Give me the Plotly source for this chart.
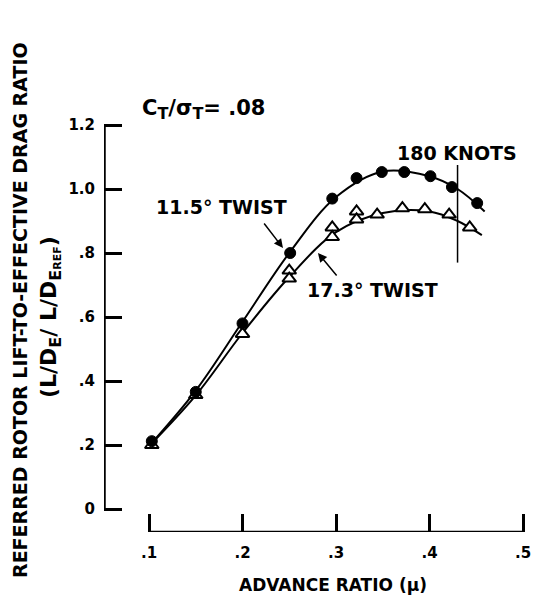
import plotly.graph_objects as go

# ---- data ----
twist115_mu = [0.103, 0.150, 0.200, 0.251, 0.296, 0.322, 0.349, 0.373, 0.401, 0.424, 0.451]
twist115_ld = [0.212, 0.366, 0.580, 0.800, 0.970, 1.034, 1.053, 1.053, 1.040, 1.006, 0.956]

twist173_mu = [0.103, 0.150, 0.200, 0.250, 0.250, 0.296, 0.296, 0.322, 0.322, 0.344, 0.371, 0.395, 0.421, 0.443]
twist173_ld = [0.200, 0.356, 0.547, 0.745, 0.720, 0.880, 0.850, 0.930, 0.905, 0.920, 0.940, 0.937, 0.920, 0.880]

# faired curves as drawn in the reference
curve115_mu = [0.098, 0.150, 0.200, 0.250, 0.300, 0.350, 0.400, 0.430, 0.459]
curve115_ld = [0.190, 0.370, 0.585, 0.800, 0.975, 1.055, 1.040, 1.000, 0.930]
curve173_mu = [0.098, 0.150, 0.200, 0.250, 0.300, 0.350, 0.400, 0.430, 0.456]
curve173_ld = [0.190, 0.355, 0.550, 0.725, 0.865, 0.925, 0.930, 0.900, 0.856]

knots180_mu = 0.43
knots180_range = [0.77, 1.075]

x_ticks = [0.1, 0.2, 0.3, 0.4, 0.5]
x_ticklabels = [".1", ".2", ".3", ".4", ".5"]
y_ticks = [0, 0.2, 0.4, 0.6, 0.8, 1.0, 1.2]
y_ticklabels = ["0", ".2", ".4", ".6", ".8", "1.0", "1.2"]

FONT = "DejaVu Sans"
W = 537
H = 595

fig = go.Figure()

fig.add_trace(go.Scatter(x=curve115_mu, y=curve115_ld, mode="lines",
                         line=dict(color="black", width=2, shape="spline"),
                         hoverinfo="skip", showlegend=False))
fig.add_trace(go.Scatter(x=curve173_mu, y=curve173_ld, mode="lines",
                         line=dict(color="black", width=2, shape="spline"),
                         hoverinfo="skip", showlegend=False))
fig.add_trace(go.Scatter(x=twist173_mu, y=twist173_ld, mode="markers",
                         marker=dict(symbol="triangle-up", size=12, color="white",
                                     line=dict(color="black", width=2)),
                         name="17.3° TWIST", showlegend=False))
fig.add_trace(go.Scatter(x=twist115_mu, y=twist115_ld, mode="markers",
                         marker=dict(symbol="circle", size=11, color="black",
                                     line=dict(color="black", width=1)),
                         name="11.5° TWIST", showlegend=False))

# 180 knots marker line
fig.add_trace(go.Scatter(x=[knots180_mu, knots180_mu], y=knots180_range, mode="lines",
                         line=dict(color="black", width=1.5),
                         hoverinfo="skip", showlegend=False))

# detached axis lines
fig.add_shape(type="line", xref="x", yref="y", x0=0.0524, x1=0.0524, y0=0, y1=1.2,
              line=dict(color="black", width=2.5))
fig.add_shape(type="line", xref="x", yref="y", x0=0.1, x1=0.5, y0=-0.0719, y1=-0.0719,
              line=dict(color="black", width=2.5))

tfont = dict(family=FONT, size=15, color="black", weight="bold")

fig.update_xaxes(range=[0.05187, 0.50749], tickvals=x_ticks, ticktext=x_ticklabels,
                 ticks="inside", ticklen=18, tickwidth=2.5, tickcolor="black",
                 showline=False, showgrid=False, zeroline=False,
                 tickfont=tfont, ticklabelstandoff=10)
fig.update_yaxes(range=[-0.071875, 1.278125], tickvals=y_ticks, ticktext=y_ticklabels,
                 ticks="inside", ticklen=18, tickwidth=2.5, tickcolor="black",
                 showline=False, showgrid=False, zeroline=False,
                 tickfont=tfont, ticklabelstandoff=8)

afont = dict(family=FONT, size=19, color="black", weight="bold")

annotations = [
    dict(x=0.177, y=0.944, xref="x", yref="y", text="11.5° TWIST", showarrow=False, font=afont),
    dict(x=0.3385, y=0.684, xref="x", yref="y", text="17.3° TWIST", showarrow=False, font=afont),
    dict(x=0.4294, y=1.1125, xref="x", yref="y", text="180 KNOTS", showarrow=False, font=afont),
    dict(x=0.1578, y=1.25, xref="x", yref="y",
         text="C<sub><span style='font-size:16px'>T</span></sub>/σ<sub><span style='font-size:16px'>T</span></sub>= .08",
         showarrow=False,
         font=dict(family=FONT, size=21, color="black", weight="bold")),
    # arrows
    dict(x=0.2433, y=0.8156, ax=0.2219, ay=0.897, xref="x", yref="y", axref="x", ayref="y",
         text="", showarrow=True, arrowhead=2, arrowsize=1.2, arrowwidth=1.5, arrowcolor="black"),
    dict(x=0.2807, y=0.80, ax=0.302, ay=0.725, xref="x", yref="y", axref="x", ayref="y",
         text="", showarrow=True, arrowhead=2, arrowsize=1.2, arrowwidth=1.5, arrowcolor="black"),
    # axis titles
    dict(x=0, y=(532 - 310) / 432, xref="paper", yref="paper", xanchor="center", yanchor="middle",
         xshift=-84,
         text="REFERRED ROTOR LIFT-TO-EFFECTIVE DRAG RATIO", textangle=-90,
         showarrow=False, font=dict(family=FONT, size=19, color="black", weight="bold")),
    dict(x=0, y=(532 - 317) / 432, xref="paper", yref="paper", xanchor="center", yanchor="middle",
         xshift=-54,
         text="(L/D<sub><span style='font-size:16px'>E</span></sub>/ L/D<sub><span style='font-size:16px'>E</span></sub><sub><span style='font-size:11px'>REF</span></sub>)",
         textangle=-90, showarrow=False,
         font=dict(family=FONT, size=22, color="black", weight="bold")),
    dict(x=(333 - 104) / 426, y=0, xref="paper", yref="paper", xanchor="center", yanchor="middle",
         yshift=-53,
         text="ADVANCE RATIO (μ)", showarrow=False,
         font=dict(family=FONT, size=17, color="black", weight="bold")),
]

fig.update_layout(width=W, height=H, margin=dict(l=104, r=7, t=100, b=63),
                  paper_bgcolor="white", plot_bgcolor="white",
                  annotations=annotations, showlegend=False)

fig.write_html("out.html")
